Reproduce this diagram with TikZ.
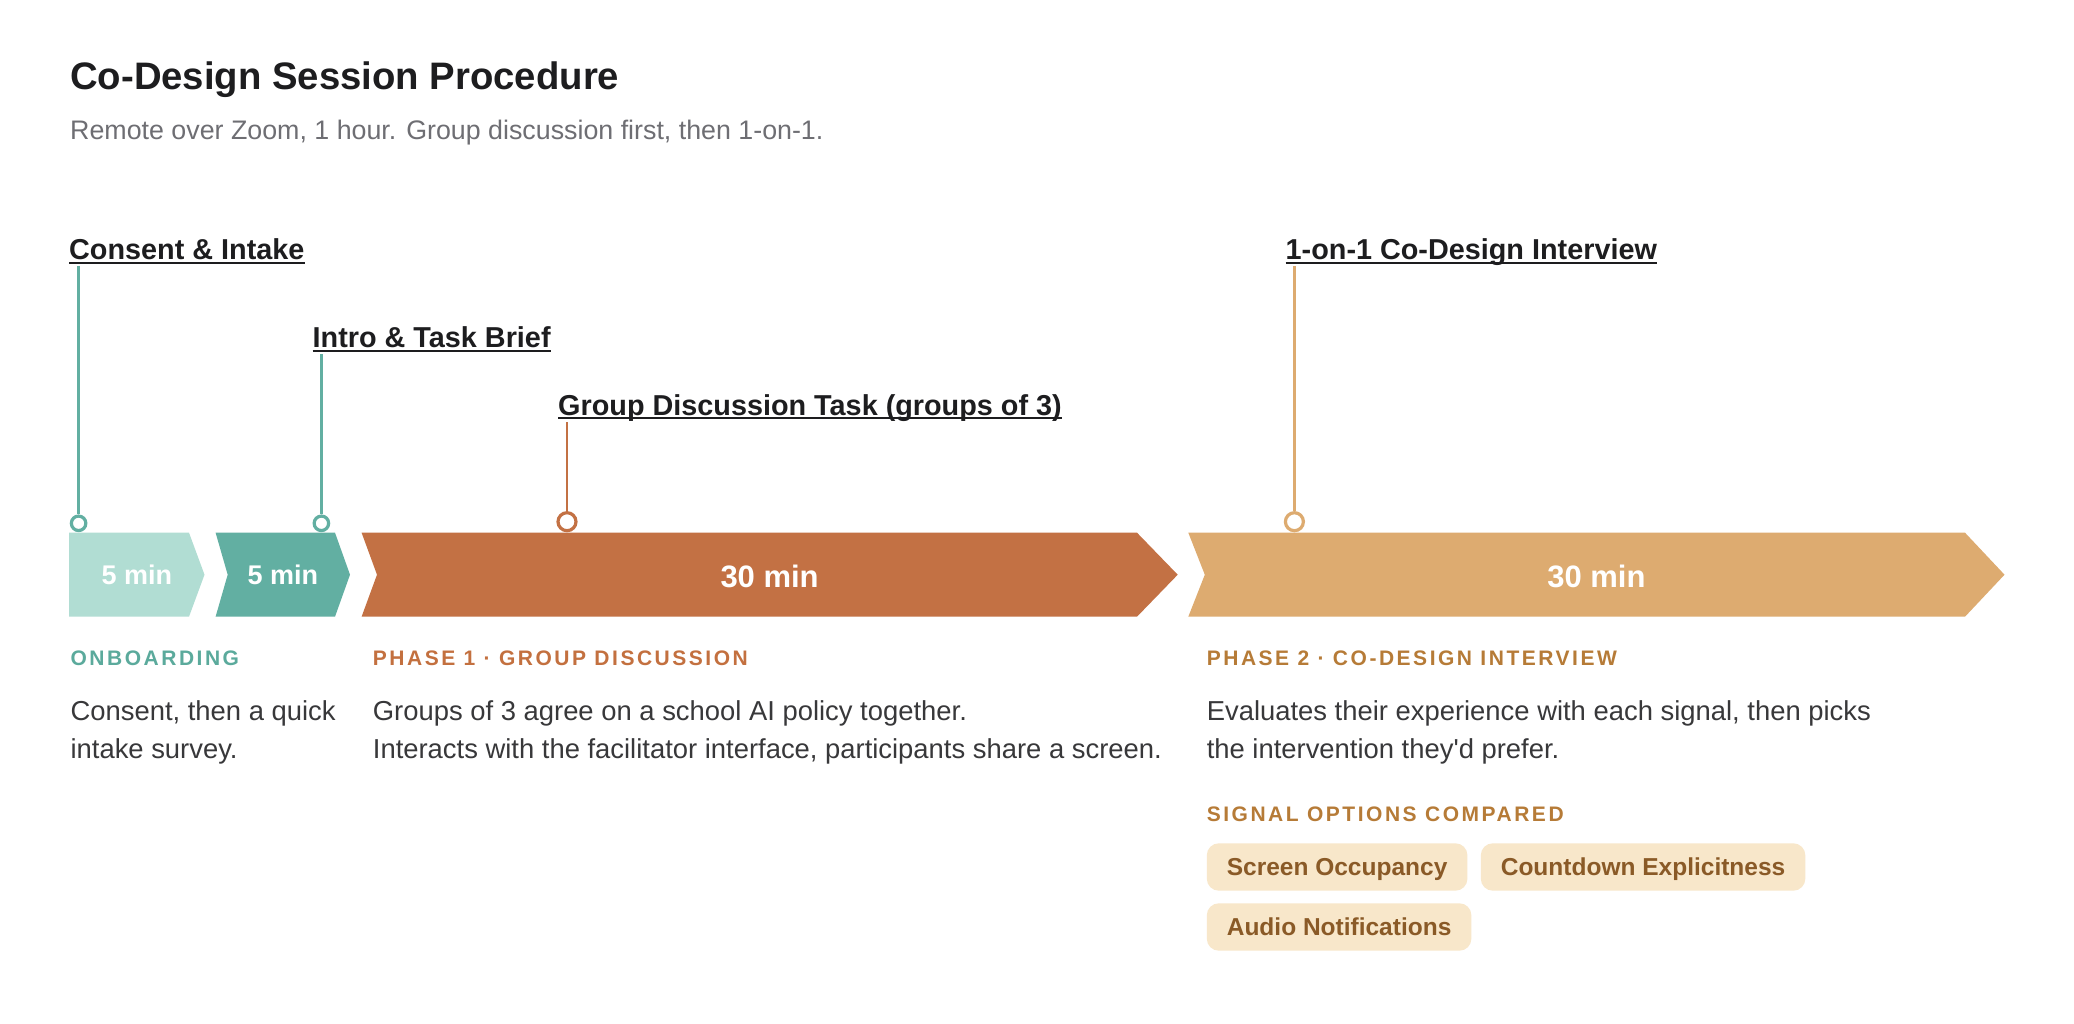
\documentclass[tikz,border=0pt]{standalone}
\usepackage{fontspec}
\setmainfont{Liberation Sans}
\newfontfamily\trackfont[LetterSpace=12]{Liberation Sans}
\definecolor{ink}{HTML}{1D1D1F}
\definecolor{subc}{HTML}{6E6E73}
\definecolor{bodyc}{HTML}{38383A}
\definecolor{segA}{HTML}{B1DDD3}
\definecolor{segB}{HTML}{62AFA2}
\definecolor{segC}{HTML}{C37144}
\definecolor{segD}{HTML}{DDAB70}
\definecolor{headA}{HTML}{5BAA9C}
\definecolor{headC}{HTML}{C3703F}
\definecolor{headD}{HTML}{B67B37}
\definecolor{pillfill}{HTML}{F8E7CA}
\definecolor{pilltext}{HTML}{8A5A27}
\begin{document}
\begin{tikzpicture}[x=1pt,y=-1pt,
  title/.style={anchor=base west, inner sep=0pt, text=ink, font=\fontsize{38.3}{44}\selectfont\bfseries},
  subtitle/.style={anchor=base west, inner sep=0pt, text=subc, font=\fontsize{26.8}{30}\selectfont},
  lbl/.style={anchor=base west, inner sep=0pt, text=ink, font=\fontsize{28.8}{34}\selectfont\bfseries},
  ul/.style={draw=ink, line width=2pt},
  body/.style={anchor=base west, inner sep=0pt, text=bodyc, font=\fontsize{27.4}{31}\selectfont},
  head/.style={anchor=base west, inner sep=0pt, font=\trackfont\bfseries\fontsize{21}{24}\selectfont},
  chevtext/.style={inner sep=0pt, text=white, font=\fontsize{27}{32}\selectfont\bfseries},
  pill/.style={anchor=west, fill=pillfill, rounded corners=12pt, minimum height=47.4pt,
    inner xsep=20pt, inner ysep=0pt, text height=17.5pt, text depth=0pt,
    text=pilltext, font=\fontsize{24.5}{28}\selectfont\bfseries},
  dotS/.style={circle, draw, line width=3.2pt, fill=white, minimum size=14.5pt, inner sep=0pt},
  dotL/.style={circle, draw, line width=3.2pt, fill=white, minimum size=18pt, inner sep=0pt},
  conn/.style={line width=2.7pt}
]
\useasboundingbox[fill=white] (0,0) rectangle (2074,1024);

% title
\node[title] (title) at (70,90) {Co-Design Session Procedure};
\node[subtitle] (subtitle) at (70,139.3) {Remote over Zoom, 1 hour. Group discussion first, then 1-on-1.};

% chevrons
\fill[segA] (69,532.7) -- (189,532.7) -- (204.5,574.7) -- (189,616.7) -- (69,616.7) -- cycle;
\fill[segB] (215.6,532.7) -- (335,532.7) -- (350,574.7) -- (335,616.7) -- (215.6,616.7) -- (227.7,574.7) -- cycle;
\fill[segC] (361.6,532.7) -- (1137,532.7) -- (1177.7,574.7) -- (1137,616.7) -- (361.6,616.7) -- (377,574.7) -- cycle;
\fill[segD] (1188.3,532.7) -- (1965,532.7) -- (2004.5,574.7) -- (1965,616.7) -- (1188.3,616.7) -- (1204.8,574.7) -- cycle;
\node[chevtext] (s1) at (136.8,575) {5 min};
\node[chevtext] (s2) at (282.8,575) {5 min};
\node[chevtext, font=\fontsize{31}{36}\selectfont\bfseries] (s3) at (769.6,576) {30 min};
\node[chevtext, font=\fontsize{31}{36}\selectfont\bfseries] (s4) at (1596.4,576) {30 min};

% milestone labels
\node[lbl] (l1) at (69,260) {Consent \& Intake};
\node[lbl] (l2) at (312.5,347.7) {Intro \& Task Brief};
\node[lbl] (l3) at (558,415) {Group Discussion Task (groups of 3)};
\node[lbl] (l4) at (1285.5,260) {1-on-1 Co-Design Interview};
\foreach \n in {l1,l2,l3,l4}
  \draw[ul] ([yshift=-3pt]\n.base west) -- ([yshift=-3pt]\n.base east);

% markers
\node[dotS, draw=segB] (d1) at (78.6,523.3) {};
\node[dotS, draw=segB] (d2) at (321.4,523.3) {};
\node[dotL, draw=segC] (d3) at (567,521.7) {};
\node[dotL, draw=segD] (d4) at (1294.4,521.7) {};
\coordinate (t1) at (78.6,266);
\coordinate (t2) at (321.4,354);
\coordinate (t3) at (567,422);
\coordinate (t4) at (1294.4,266);
\draw[conn, segB] (t1) -- (d1);
\draw[conn, segB] (t2) -- (d2);
\draw[conn, segC] (t3) -- (d3);
\draw[conn, segD] (t4) -- (d4);

% onboarding
\node[head, text=headA] (h1) at (70.4,665) {ONBOARDING};
\node[body] (b1a) at (70.4,720) {Consent, then a quick};
\node[body] (b1b) at (70.4,758.3) {intake survey.};

% phase 1
\node[head, text=headC] (h2) at (372.7,665) {PHASE 1 · GROUP DISCUSSION};
\node[body] (b2a) at (372.7,720) {Groups of 3 agree on a school AI policy together.};
\node[body] (b2b) at (372.7,758.3) {Interacts with the facilitator interface, participants share a screen.};

% phase 2
\node[head, text=headD] (h3) at (1206.6,665.7) {PHASE 2 · CO-DESIGN INTERVIEW};
\node[body] (b3a) at (1206.6,720) {Evaluates their experience with each signal, then picks};
\node[body] (b3b) at (1206.6,758.3) {the intervention they\textquotesingle d prefer.};
\node[head, text=headD] (h4) at (1206.6,821.7) {SIGNAL OPTIONS COMPARED};

\node[pill] (p1) at (1206.6,867) {Screen Occupancy};
\node[pill, anchor=west] (p2) at ([xshift=13pt]p1.east) {Countdown Explicitness};
\node[pill] (p3) at (1206.6,927) {Audio Notifications};
\end{tikzpicture}
\end{document}
